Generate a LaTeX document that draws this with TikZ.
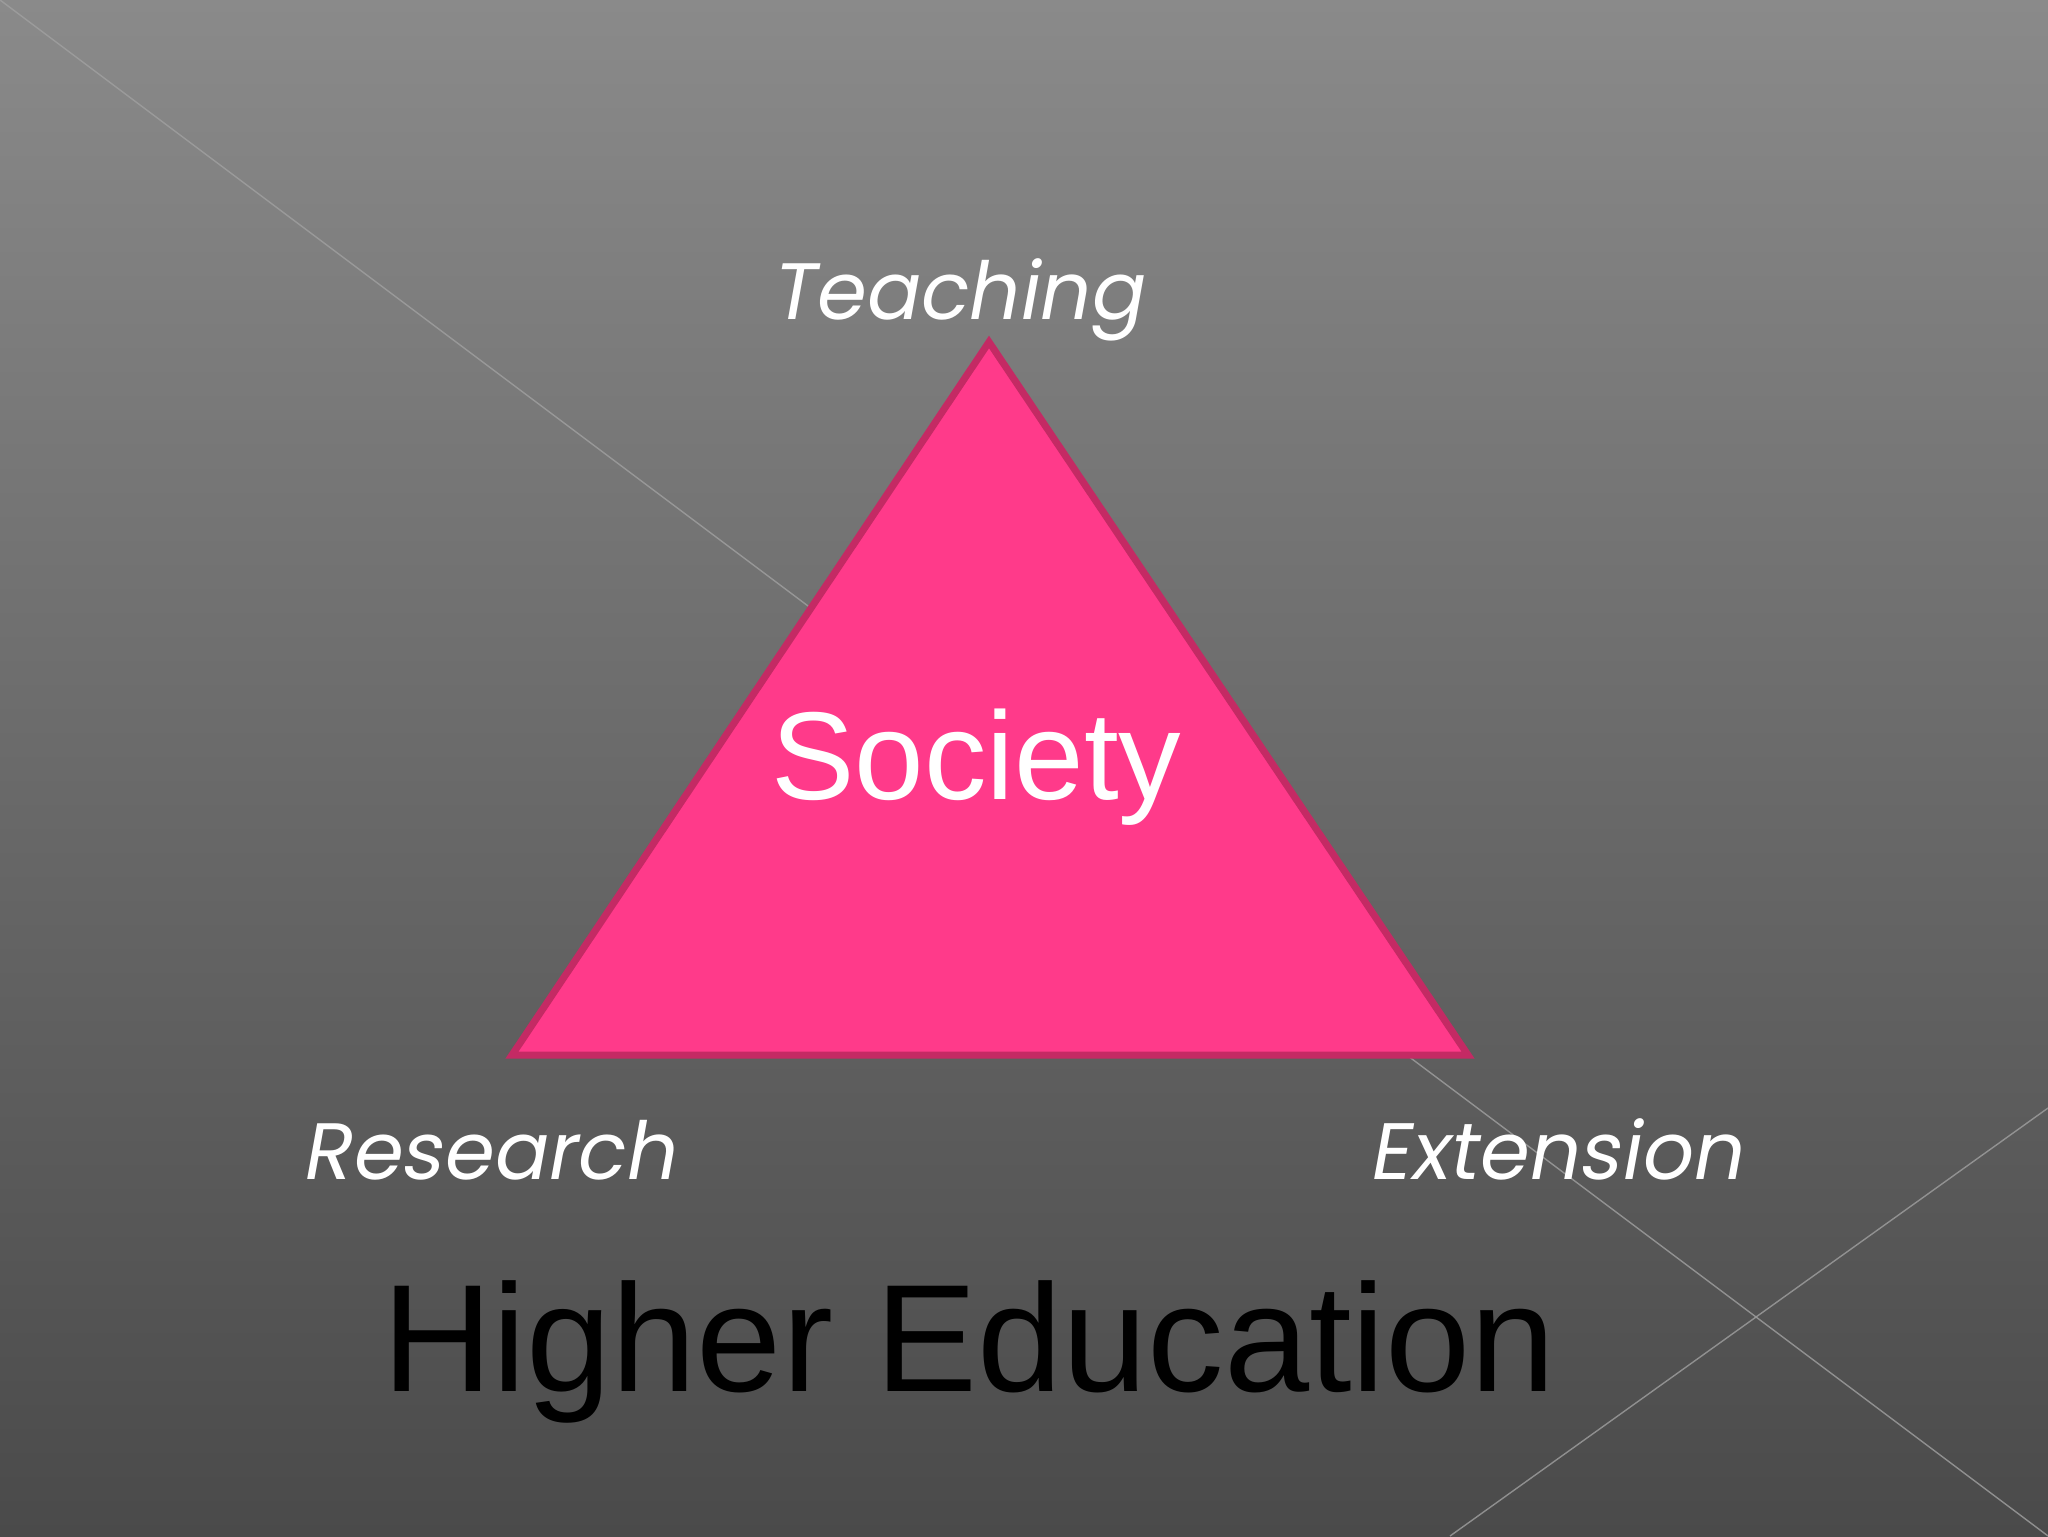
\documentclass[tikz,border=0pt]{standalone}
\usepackage{fontspec}
\setmainfont{Liberation Sans}
\newfontfamily\gothic[FakeSlant=0.18]{Poppins}
\definecolor{bgtop}{HTML}{8A8A8A}
\definecolor{bgbot}{HTML}{4A4A4A}
\definecolor{pinkfill}{HTML}{FF3A8A}
\definecolor{pinkedge}{HTML}{C42A64}
\definecolor{diagline}{HTML}{A0A0A0}
\tikzset{
  vertexlabel/.style={font=\gothic\fontsize{40}{48}\selectfont, text=white, inner sep=0pt, anchor=base west},
  bgline/.style={draw=diagline, line width=0.7pt, opacity=0.8},
  tri/.style={fill=pinkfill, draw=pinkedge, line width=3.5pt, line join=miter},
}
\begin{document}
\begin{tikzpicture}[x=0.5pt, y=-0.5pt]
  \useasboundingbox (0,0) rectangle (2048,1536);
  \shade[top color=bgtop, bottom color=bgbot] (0,0) rectangle (2048,1536);
  \coordinate (l1a) at (0,0);
  \coordinate (l1b) at (2048,1536);
  \coordinate (l2a) at (2048,1108);
  \coordinate (l2b) at (1450,1536);
  \draw[bgline] (l1a) -- (l1b);
  \draw[bgline] (l2a) -- (l2b);
  \coordinate (apex) at (989,342);
  \coordinate (bl) at (512,1055);
  \coordinate (br) at (1468,1055);
  \path[tri] (apex) -- (br) -- (bl) -- cycle;
  \node[font=\fontsize{62.5}{70}\selectfont, text=white, inner sep=0pt, anchor=base west] (society) at (771,799) {Society};
  \node[vertexlabel] (teaching) at (770,319) {Teaching};
  \node[vertexlabel] (research) at (301,1179) {Research};
  \node[vertexlabel] (extension) at (1368,1179) {Extension};
  \node[font=\fontsize{76.5}{86}\selectfont, text=black, inner sep=0pt, anchor=base west] (higher) at (382,1391) {Higher Education};
\end{tikzpicture}
\end{document}
